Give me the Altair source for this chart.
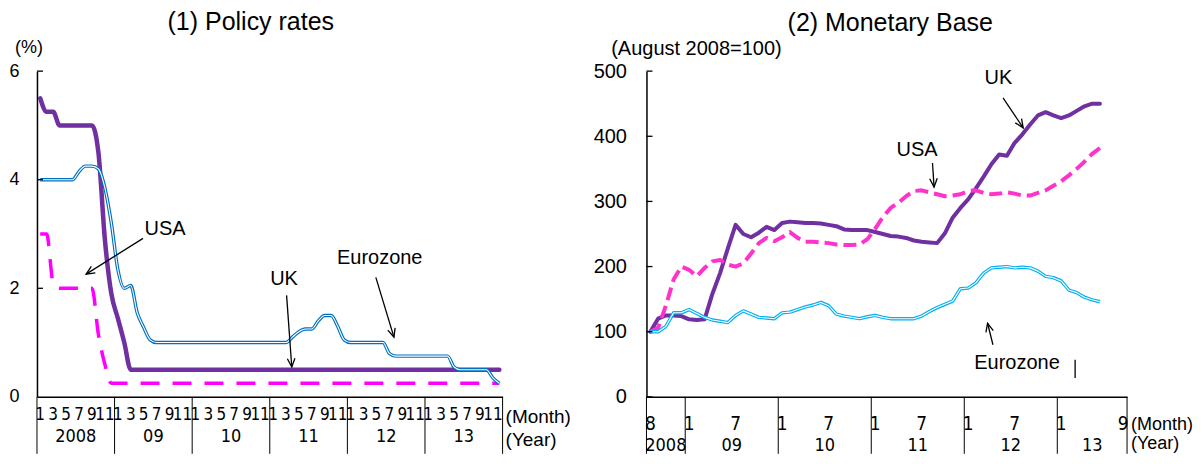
import math
import altair as alt
import pandas as pd

# ---------------- data: (1) Policy rates, monthly Jan 2008 - Dec 2013 ----------------
uk_rate = [5.5, 5.25, 5.25, 5.0, 5.0, 5.0, 5.0, 5.0, 5.0, 4.5, 2.9, 1.9,
           1.45, 1.0] + [0.5] * 58
usa_rate = [3.0, 3.0, 2.1, 2.0, 2.0, 2.0, 2.0, 2.0, 2.0, 1.15, 0.6, 0.25] + [0.25] * 60
euro_rate = ([4.0, 4.0, 4.0, 4.0, 4.0, 4.0, 4.15, 4.25, 4.25, 4.2, 3.85, 3.2,
              2.35, 2.0, 2.05, 1.55, 1.28, 1.05] + [1.0] * 21 +
             [1.1, 1.2, 1.25, 1.25, 1.4, 1.5, 1.5, 1.3, 1.05] + [1.0] * 6 +
             [0.8] + [0.75] * 9 + [0.55] + [0.5] * 5 + [0.35, 0.25])

left_month_names = ["1", "3", "5", "7", "9", "11"]
left_month_nums = [1, 3, 5, 7, 9, 11]
left_year_labels = ["2008", "09", "10", "11", "12", "13"]

# ---------------- data: (2) Monetary Base, monthly Aug 2008 - Jun 2013 ----------------
uk_base = [100, 120, 125, 125, 124, 119, 118, 119, 158, 190, 228, 264, 250, 245, 252, 261,
           256, 267, 269, 268, 267, 267, 266, 264, 262, 257, 256, 256, 256, 253, 250, 247,
           246, 244, 240, 238, 237, 236, 251, 275, 290, 303, 320, 338, 357, 372, 370, 390,
           403, 418, 432, 437, 432, 428, 432, 439, 446, 450, 450]
usa_base = [100, 106, 140, 180, 200, 195, 185, 198, 208, 210, 203, 200, 205, 220, 236, 244,
            239, 245, 253, 244, 238, 238, 237, 236, 234, 233, 233, 234, 242, 258, 276, 290,
            298, 308, 316, 317, 314, 311, 308, 309, 311, 316, 317, 313, 311, 312, 314, 312,
            309, 309, 313, 317, 324, 331, 340, 350, 361, 373, 382]
euro_base = [100, 100, 108, 129, 129, 134, 128, 122, 118, 116, 114, 125, 132, 127, 122, 121,
             120, 129, 130, 134, 138, 141, 145, 140, 127, 124, 122, 120, 123, 125, 122, 120,
             120, 120, 120, 124, 131, 137, 142, 147, 166, 167, 175, 190, 198, 199, 200, 198,
             199, 198, 193, 185, 183, 178, 164, 160, 153, 149, 146]

right_month_idx = [0, 5, 11, 17, 23, 29, 35, 41, 47, 53, 61]
right_month_names = ["8", "1", "7", "1", "7", "1", "7", "1", "7", "1", "9"]
right_year_bounds = [0, 5, 17, 29, 41, 53, 62]
right_year_labels = ["2008", "09", "10", "11", "12", "13"]

# ---------------- styling ----------------
FONT = "Liberation Sans, Arial, sans-serif"
NARROW = "Liberation Sans Narrow, DejaVu Sans Condensed, Arial Narrow, sans-serif"
PURPLE = "#7030A0"
MAGENTA = "#FF00FF"
PINK = "#FF33CC"
BLUE = "#0070C0"
CYAN = "#00B0F0"

LW, RW, H = 466, 481, 326
LN, RN = 72, 62


def arrow_layers(arrows, xs, ys, kx, ky):
    rows = []
    for (x1, y1, x2, y2) in arrows:
        dx = (x2 - x1) * kx
        dy = -(y2 - y1) * ky
        ang = math.degrees(math.atan2(dx, -dy)) % 360
        rows.append({"x1": x1, "y1": y1, "x2": x2, "y2": y2, "a": ang})
    df = pd.DataFrame(rows)
    shaft = alt.Chart(df).mark_rule(color="black", strokeWidth=1.3).encode(
        x=alt.X("x1:Q", scale=xs), y=alt.Y("y1:Q", scale=ys),
        x2="x2:Q", y2="y2:Q")
    head = alt.Chart(df).mark_point(
        shape="M -0.8 1.8 L 0 0 L 0.8 1.8", filled=False, color="black",
        strokeWidth=1.3, size=90, opacity=1).encode(
        x=alt.X("x2:Q", scale=xs), y=alt.Y("y2:Q", scale=ys),
        angle=alt.Angle("a:Q", scale=None))
    return [shaft, head]


def label_text(df, xs, ys, size=20):
    return alt.Chart(df).mark_text(font=FONT, fontSize=size, color="black").encode(
        x=alt.X("x:Q", scale=xs), y=alt.Y("y:Q", scale=ys), text="t:N")


def pix_text(t, x, y, size, align="center", font=FONT):
    return alt.Chart(pd.DataFrame({"t": [t]})).mark_text(
        font=font, fontSize=size, color="black", align=align, baseline="middle"
    ).encode(x=alt.value(x), y=alt.value(y), text="t:N")


# ================= left panel =================
xs_l = alt.Scale(domain=[0, LN], nice=False, zero=False)
ys_l = alt.Scale(domain=[0, 6], nice=False)
x_axis_l = alt.Axis(labels=False, ticks=False, title=None, grid=False,
                    domainColor="black", domainWidth=1.5)
y_axis_l = alt.Axis(values=[0, 2, 4, 6], format="d", ticks=False, labelPadding=18,
                    labelFontSize=18, labelFont=FONT, labelColor="black", grid=False,
                    title=None, domainColor="black", domainWidth=1.5)

xl = [i + 0.5 for i in range(LN)]
ldf = pd.DataFrame({"x": xl, "UK": uk_rate, "USA": usa_rate, "Euro": euro_rate})

l_uk = alt.Chart(ldf).mark_line(color=PURPLE, strokeWidth=4.5, interpolate="monotone",
                                strokeCap="round").encode(
    x=alt.X("x:Q", scale=xs_l, axis=x_axis_l), y=alt.Y("UK:Q", scale=ys_l, axis=y_axis_l))
l_usa = alt.Chart(ldf).mark_line(color=MAGENTA, strokeWidth=3.5, interpolate="monotone",
                                 strokeDash=[19, 13]).encode(
    x=alt.X("x:Q", scale=xs_l), y=alt.Y("USA:Q", scale=ys_l))
l_eu1 = alt.Chart(ldf).mark_line(color=BLUE, strokeWidth=3.4, interpolate="monotone").encode(
    x=alt.X("x:Q", scale=xs_l), y=alt.Y("Euro:Q", scale=ys_l))
l_eu2 = alt.Chart(ldf).mark_line(color="white", strokeWidth=1.1, interpolate="monotone").encode(
    x=alt.X("x:Q", scale=xs_l), y=alt.Y("Euro:Q", scale=ys_l))

l_ticks = alt.Chart(pd.DataFrame({"v": [2, 4, 6]})).mark_rule(
    color="black", strokeWidth=1.3).encode(
    x=alt.value(0), x2=alt.value(6), y=alt.Y("v:Q", scale=ys_l))

lm_rows = []
for yi in range(6):
    for mname, mnum in zip(left_month_names, left_month_nums):
        lm_rows.append({"x": yi * 12 + mnum - 0.5, "t": mname})
l_months = alt.Chart(pd.DataFrame(lm_rows)).mark_text(
    font=NARROW, fontSize=17, color="black", baseline="middle").encode(
    x=alt.X("x:Q", scale=xs_l), y=alt.value(H + 18), text="t:N")
l_years = alt.Chart(pd.DataFrame({"x": [i * 12 + 6 for i in range(6)],
                                  "t": left_year_labels})).mark_text(
    font=NARROW, fontSize=18, color="black", baseline="middle").encode(
    x=alt.X("x:Q", scale=xs_l), y=alt.value(H + 40), text="t:N")
l_seps = alt.Chart(pd.DataFrame({"b": [i * 12 for i in range(7)]})).mark_rule(
    color="black", strokeWidth=1).encode(
    x=alt.X("b:Q", scale=xs_l), y=alt.value(H), y2=alt.value(H + 57))

l_notes = label_text(pd.DataFrame({"x": [19.8, 38.2, 53.0], "y": [3.10, 2.18, 2.55],
                                   "t": ["USA", "UK", "Eurozone"]}), xs_l, ys_l)
l_arrows = arrow_layers([(16.4, 2.92, 7.6, 2.26), (38.6, 1.87, 39.4, 0.55),
                         (52.4, 2.20, 55.2, 1.10)], xs_l, ys_l, LW / LN, H / 6)

left = alt.layer(
    l_uk, l_usa, l_eu1, l_eu2, l_ticks, l_months, l_years, l_seps, l_notes, *l_arrows,
    pix_text("(1) Policy rates", 214, -49, 25),
    pix_text("(%)", -8, -23, 18),
    pix_text("(Month)", 469, H + 20, 19, align="left"),
    pix_text("(Year)", 469, H + 43, 19, align="left"),
).properties(width=LW, height=H)

# ================= right panel =================
xs_r = alt.Scale(domain=[0, RN], nice=False, zero=False)
ys_r = alt.Scale(domain=[0, 500], nice=False)
x_axis_r = alt.Axis(labels=False, ticks=False, title=None, grid=False,
                    domainColor="black", domainWidth=1.5)
y_axis_r = alt.Axis(values=[0, 100, 200, 300, 400, 500], format="d", ticks=False,
                    labelPadding=20, labelFontSize=20, labelFont=FONT, labelColor="black",
                    grid=False, title=None, domainColor="black", domainWidth=1.5)

xr = [i + 0.5 for i in range(len(uk_base))]
rdf = pd.DataFrame({"x": xr, "UK": uk_base, "USA": usa_base, "Euro": euro_base})

r_uk = alt.Chart(rdf).mark_line(color=PURPLE, strokeWidth=4, strokeCap="round",
                                strokeJoin="round").encode(
    x=alt.X("x:Q", scale=xs_r, axis=x_axis_r), y=alt.Y("UK:Q", scale=ys_r, axis=y_axis_r))
r_usa = alt.Chart(rdf).mark_line(color=PINK, strokeWidth=4, strokeDash=[13, 6],
                                 strokeJoin="round").encode(
    x=alt.X("x:Q", scale=xs_r), y=alt.Y("USA:Q", scale=ys_r))
r_eu1 = alt.Chart(rdf).mark_line(color=CYAN, strokeWidth=3.4, strokeJoin="round").encode(
    x=alt.X("x:Q", scale=xs_r), y=alt.Y("Euro:Q", scale=ys_r))
r_eu2 = alt.Chart(rdf).mark_line(color="white", strokeWidth=1.1, strokeJoin="round").encode(
    x=alt.X("x:Q", scale=xs_r), y=alt.Y("Euro:Q", scale=ys_r))

r_ticks = alt.Chart(pd.DataFrame({"v": [0, 100, 200, 300, 400, 500]})).mark_rule(
    color="black", strokeWidth=1.3).encode(
    x=alt.value(0), x2=alt.value(6), y=alt.Y("v:Q", scale=ys_r))

r_months = alt.Chart(pd.DataFrame({"x": [i + 0.5 for i in right_month_idx],
                                   "t": right_month_names})).mark_text(
    font=NARROW, fontSize=19, color="black", baseline="middle").encode(
    x=alt.X("x:Q", scale=xs_r), y=alt.value(H + 27), text="t:N")
yc = [(right_year_bounds[i] + right_year_bounds[i + 1]) / 2 for i in range(6)]
r_years = alt.Chart(pd.DataFrame({"x": yc, "t": right_year_labels})).mark_text(
    font=NARROW, fontSize=18, color="black", baseline="middle").encode(
    x=alt.X("x:Q", scale=xs_r), y=alt.value(H + 49), text="t:N")
r_seps = alt.Chart(pd.DataFrame({"b": right_year_bounds})).mark_rule(
    color="black", strokeWidth=1).encode(
    x=alt.X("b:Q", scale=xs_r), y=alt.value(H), y2=alt.value(H + 57))

r_notes = label_text(pd.DataFrame({"x": [45.4, 34.9, 47.8], "y": [489, 379, 52],
                                   "t": ["UK", "USA", "Eurozone"]}), xs_r, ys_r)
r_arrows = arrow_layers([(46.0, 459, 48.6, 413), (36.9, 359, 37.1, 322),
                         (44.7, 80, 44.0, 113)], xs_r, ys_r, RW / RN, H / 500)
r_bar = alt.Chart(pd.DataFrame({"x": [55.3], "y1": [57], "y2": [29]})).mark_rule(
    color="black", strokeWidth=1.3).encode(
    x=alt.X("x:Q", scale=xs_r), y=alt.Y("y1:Q", scale=ys_r), y2="y2:Q")

right = alt.layer(
    r_uk, r_usa, r_eu1, r_eu2, r_ticks, r_months, r_years, r_seps, r_notes, *r_arrows, r_bar,
    pix_text("(2) Monetary Base", 244, -48, 25),
    pix_text("(August 2008=100)", 50, -22, 20),
    pix_text("(Month)", 485, H + 28, 18, align="left"),
    pix_text("(Year)", 485, H + 47, 18, align="left"),
).properties(width=RW, height=H)

chart = alt.hconcat(left, right, spacing=144, bounds="flush").properties(
    padding={"left": 0, "top": 2, "right": 0, "bottom": 0}
).configure_view(stroke=None)

chart.save("out.html", embed_options={"renderer": "svg", "actions": False})
